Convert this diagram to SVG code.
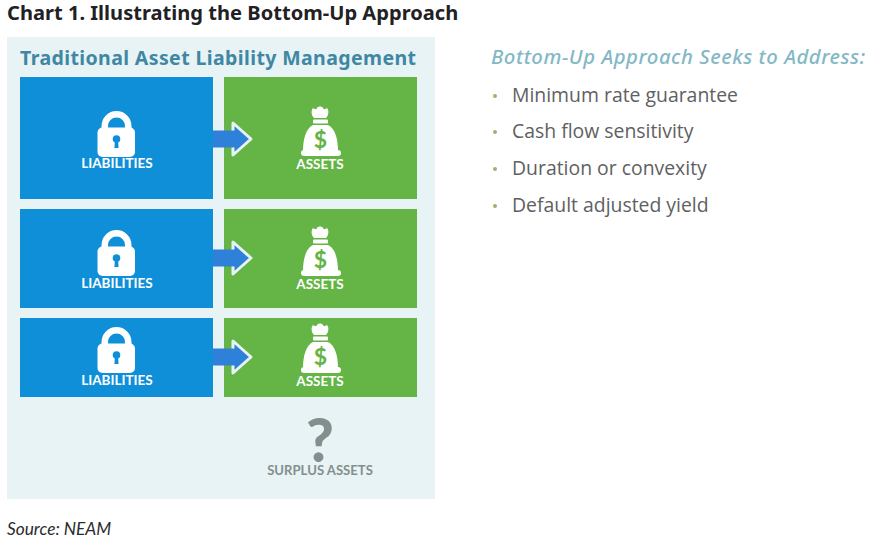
<svg xmlns="http://www.w3.org/2000/svg" width="871" height="547" viewBox="0 0 871 547">
<style>
text{font-family:"Noto Sans","Liberation Sans",sans-serif}
.blue{fill:#0f8fd8}
.green{fill:#64b545}
.lbl{font-family:Lato,"Liberation Sans",sans-serif;font-size:13.500px;font-weight:700;fill:#fff;text-anchor:middle}
.item{font-family:"Open Sans","Liberation Sans",sans-serif;font-size:19.400px;fill:#5e6162}
.dot{fill:#9db36b}
.lato{font-family:Lato,"Liberation Sans",sans-serif}
.dollar{font-family:Lato,"Liberation Sans",sans-serif;font-size:23px;font-weight:700;fill:#64b545;text-anchor:middle}
.shaft{fill:#2e80d8}
.edge{fill:none;stroke:#e8f3f5;stroke-width:3;stroke-linejoin:round}
</style>
<defs>
<g id="lock">
<path d="M104.750 130V126a11.750 11.750 0 0 1 23.500 0V130" fill="none" stroke="#fff" stroke-width="6.500"/>
<rect x="97.500" y="127.500" width="37.500" height="29.500" rx="5" fill="#fff"/>
<circle cx="116.500" cy="139" r="3.800" fill="#0f8fd8"/>
<path d="M115 140h3l.6 8h-4.200z" fill="#0f8fd8"/>
</g>
<g id="bag">
<path d="M314 118c-3-3-3-8-1-10c1.500 1 3 2 4 0c1-2 5-2 6 0c1 2 2.500 1 4 0c2 2 2 7-1 10z" fill="#fff"/>
<rect x="313" y="119.500" width="15" height="4" rx="1" fill="#fff"/>
<path d="M313 125h15c7 3 10 14 10 26h-35c0-12 3-23 10-26z" fill="#fff"/>
<rect x="301" y="150" width="40" height="6" rx="3" fill="#fff"/>
</g>
<g id="arrow">
<path class="shaft" d="M213 130.500H233V123L251 139L233 155V147.500H213z"/>
<path class="edge" d="M233 130.500V123L251 139L233 155V147.500"/>
</g>
</defs>
<rect width="871" height="547" fill="#fff"/>
<text x="7" y="20" font-size="20.100" font-weight="700" fill="#1f2124">Chart 1. Illustrating the Bottom-Up Approach</text>
<rect x="7" y="37" width="428" height="462" fill="#e8f3f5"/>
<text x="20" y="65" font-size="19.500" font-weight="700" fill="#3f87a3" textLength="396">Traditional Asset Liability Management</text>

<g id="liabilities-1"><rect class="blue" x="20" y="77" width="193" height="122"/><use href="#lock"/><text class="lbl" x="117" y="168">LIABILITIES</text></g>
<g id="assets-1"><rect class="green" x="224" y="77" width="193" height="122"/><use href="#bag"/><text class="dollar" x="320.500" y="148">$</text><text class="lbl" x="320" y="169">ASSETS</text></g>

<g id="liabilities-2"><rect class="blue" x="20" y="209" width="193" height="99"/><use href="#lock" y="119"/><text class="lbl" x="117" y="288">LIABILITIES</text></g>
<g id="assets-2"><rect class="green" x="224" y="209" width="193" height="99"/><use href="#bag" y="120"/><text class="dollar" x="320.500" y="268">$</text><text class="lbl" x="320" y="289">ASSETS</text></g>

<g id="liabilities-3"><rect class="blue" x="20" y="318" width="193" height="79"/><use href="#lock" y="216"/><text class="lbl" x="117" y="385">LIABILITIES</text></g>
<g id="assets-3"><rect class="green" x="224" y="318" width="193" height="79"/><use href="#bag" y="217"/><text class="dollar" x="320.500" y="365">$</text><text class="lbl" x="320" y="386">ASSETS</text></g>

<g id="connectors">
<use href="#arrow"/>
<use href="#arrow" y="119"/>
<use href="#arrow" y="218"/>
</g>

<g id="surplus">
<text class="lato" x="320" y="462" font-size="60" font-weight="900" fill="#838f8c" text-anchor="middle">?</text>
<text class="lato" x="320" y="475" font-size="13.100" font-weight="700" fill="#838f8c" text-anchor="middle">SURPLUS ASSETS</text>
</g>

<text class="lato" x="7" y="535" font-size="17.300" font-style="italic" fill="#2a2b2d">Source: NEAM</text>

<text x="491" y="64" font-size="20.300" font-weight="500" font-style="italic" fill="#84b8c6" textLength="374">Bottom-Up Approach Seeks to Address:</text>
<circle class="dot" cx="495" cy="96" r="2"/><text class="item" x="512" y="102">Minimum rate guarantee</text>
<circle class="dot" cx="495" cy="132" r="2"/><text class="item" x="512" y="138">Cash flow sensitivity</text>
<circle class="dot" cx="495" cy="169" r="2"/><text class="item" x="512" y="175">Duration or convexity</text>
<circle class="dot" cx="495" cy="206" r="2"/><text class="item" x="512" y="212">Default adjusted yield</text>
</svg>
